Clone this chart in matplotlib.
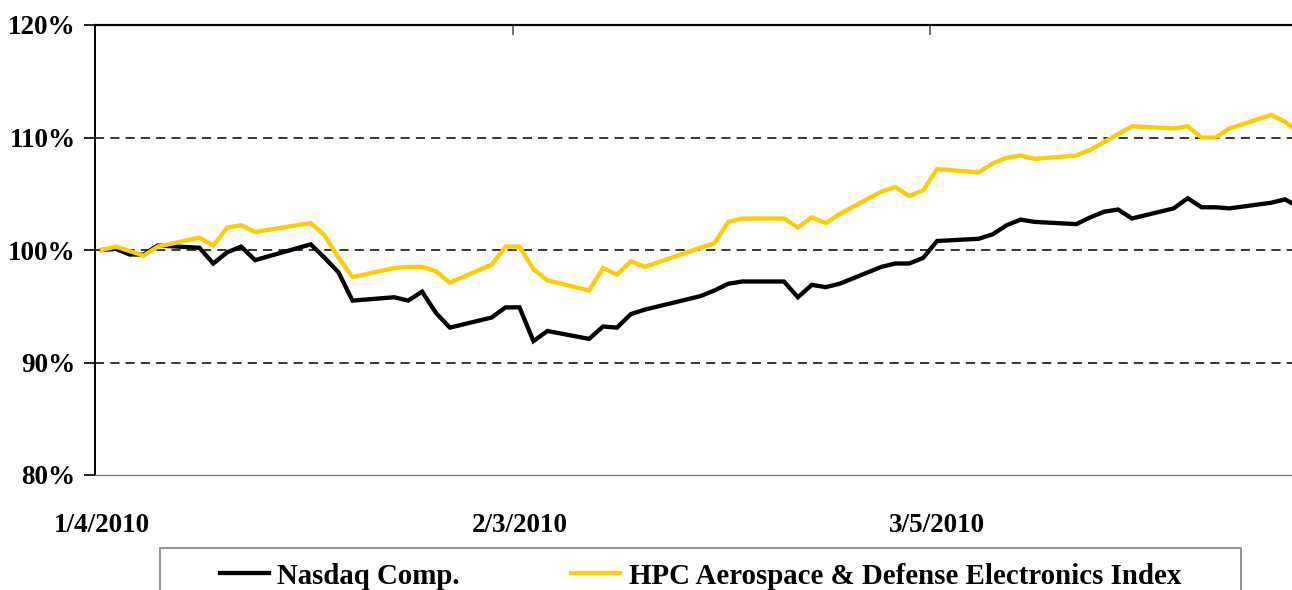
import pandas as pd
import matplotlib
matplotlib.use('Agg')
from matplotlib import pyplot as plt
from matplotlib import dates as mdates
from matplotlib.patches import Rectangle

dates = ['2010-01-04', '2010-01-05', '2010-01-06', '2010-01-07', '2010-01-08',
         '2010-01-11', '2010-01-12', '2010-01-13', '2010-01-14', '2010-01-15',
         '2010-01-19', '2010-01-20', '2010-01-21', '2010-01-22',
         '2010-01-25', '2010-01-26', '2010-01-27', '2010-01-28', '2010-01-29',
         '2010-02-01', '2010-02-02', '2010-02-03', '2010-02-04', '2010-02-05',
         '2010-02-08', '2010-02-09', '2010-02-10', '2010-02-11', '2010-02-12',
         '2010-02-16', '2010-02-17', '2010-02-18', '2010-02-19',
         '2010-02-22', '2010-02-23', '2010-02-24', '2010-02-25', '2010-02-26',
         '2010-03-01', '2010-03-02', '2010-03-03', '2010-03-04', '2010-03-05',
         '2010-03-08', '2010-03-09', '2010-03-10', '2010-03-11', '2010-03-12',
         '2010-03-15', '2010-03-16', '2010-03-17', '2010-03-18', '2010-03-19',
         '2010-03-22', '2010-03-23', '2010-03-24', '2010-03-25', '2010-03-26',
         '2010-03-29', '2010-03-30', '2010-03-31']

nasdaq = [100.0, 100.1, 99.6, 99.6, 100.4, 100.2, 98.8, 99.8, 100.3, 99.1,
          100.5, 99.3, 98.0, 95.5, 95.8, 95.5, 96.3, 94.4, 93.1,
          94.0, 94.9, 94.9, 91.9, 92.8, 92.1, 93.2, 93.1, 94.3, 94.7,
          95.9, 96.4, 97.0, 97.2, 97.2, 95.8, 96.9, 96.7, 97.0,
          98.5, 98.8, 98.8, 99.3, 100.8, 101.0, 101.4, 102.2, 102.7, 102.5,
          102.3, 102.9, 103.4, 103.6, 102.8, 103.7, 104.6, 103.8, 103.8, 103.7,
          104.2, 104.5, 103.8]

hpc = [100.0, 100.3, 99.9, 99.5, 100.3, 101.1, 100.4, 102.0, 102.2, 101.6,
       102.4, 101.3, 99.3, 97.6, 98.4, 98.5, 98.5, 98.1, 97.1,
       98.7, 100.3, 100.3, 98.3, 97.3, 96.4, 98.4, 97.8, 99.0, 98.5,
       100.2, 100.6, 102.5, 102.8, 102.8, 102.0, 102.9, 102.4, 103.2,
       105.2, 105.6, 104.8, 105.3, 107.2, 106.9, 107.7, 108.2, 108.4, 108.1,
       108.4, 108.9, 109.6, 110.3, 111.0, 110.8, 111.0, 110.0, 110.0, 110.8,
       112.0, 111.4, 110.4]

labels = ['Nasdaq Comp.', 'HPC Aerospace & Defense Electronics Index']
tick_dates = ['2010-01-04', '2010-02-03', '2010-03-05']
tick_labels = ['1/4/2010', '2/3/2010', '3/5/2010']
yticks = [80, 90, 100, 110, 120]

plt.rcParams['font.family'] = ['Liberation Serif', 'DejaVu Serif']
plt.rcParams['font.weight'] = 'bold'

x = mdates.date2num(pd.to_datetime(dates))
xt = mdates.date2num(pd.to_datetime(tick_dates))

fig = plt.figure(figsize=(12.92, 5.9), dpi=100)
ax = fig.add_axes([95 / 1292, 115 / 590, 1 - 95 / 1292, 450 / 590])

l1, = ax.plot(x, nasdaq, color='black', lw=3.1, solid_joinstyle='miter')
l2, = ax.plot(x, hpc, color='#FFCC00', lw=3.1, solid_joinstyle='miter')

# each day sits in the middle of its slot (excel date axis look)
ax.set_xlim(x[0] - 0.5, x[0] + 85.5)
ax.set_ylim(80, 120)
ax.set_yticks(yticks)
ax.set_yticklabels(['%d%%' % v for v in yticks], fontsize=19.5)
ax.tick_params(axis='y', direction='out', length=8, width=1.2, pad=6)

ax.set_xticks(xt - 0.5)
ax.set_xticklabels([])
ax.set_xticks(xt, minor=True)
ax.set_xticklabels(tick_labels, minor=True, fontsize=19.5)
ax.tick_params(axis='x', which='major', top=True, bottom=False, direction='in',
               length=7, width=1.2, color='#555555')
ax.tick_params(axis='x', which='minor', length=0, pad=27)

ax.grid(axis='y', color='black', linestyle=(0, (6, 4)), lw=1.1)
# no dashed line on top of the frame at 80% / 120%
gls = ax.yaxis.get_gridlines()
gls[0].set_visible(False)
gls[-1].set_visible(False)
ax.spines['top'].set_linewidth(1.6)
ax.spines['left'].set_linewidth(1.4)
ax.spines['bottom'].set_color('#808080')
ax.spines['bottom'].set_linewidth(1.0)
ax.spines['right'].set_visible(False)

fig.add_artist(Rectangle((160 / 1292, -0.05), 1081 / 1292, 0.05 + 42 / 590,
                         transform=fig.transFigure, fill=False,
                         edgecolor='#808080', lw=1.2))
fig.legend([l1, l2], labels, loc='center left', ncol=2, frameon=False,
           bbox_to_anchor=(208 / 1292, 1 - 576 / 590), fontsize=20.8,
           handlelength=1.7, handletextpad=0.3, columnspacing=3.85,
           borderaxespad=0)

figname = 'out.png'
plt.savefig(figname, dpi=100)
print('Plot saved as: ' + figname)
